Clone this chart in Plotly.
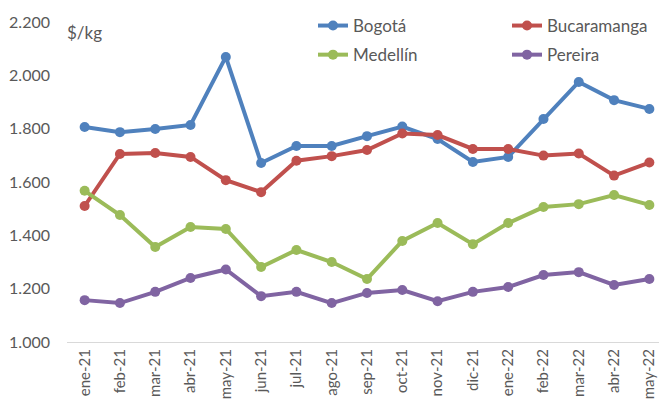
import plotly.graph_objects as go

months = ["ene-21", "feb-21", "mar-21", "abr-21", "may-21", "jun-21", "jul-21", "ago-21",
          "sep-21", "oct-21", "nov-21", "dic-21", "ene-22", "feb-22", "mar-22", "abr-22", "may-22"]

bogota = [1806, 1787, 1799, 1814, 2069, 1671, 1735, 1735, 1772, 1808, 1761, 1675, 1694, 1836, 1975, 1907, 1874]
bucaramanga = [1510, 1705, 1709, 1694, 1607, 1562, 1680, 1697, 1720, 1782, 1776, 1724, 1724, 1699, 1707, 1624, 1673]
medellin = [1567, 1476, 1356, 1431, 1424, 1281, 1345, 1300, 1236, 1379, 1446, 1367, 1446, 1506, 1517, 1551, 1514]
pereira = [1157, 1146, 1188, 1240, 1272, 1172, 1188, 1146, 1184, 1195, 1153, 1188, 1206, 1251, 1262, 1214, 1236]

series = [
    ("Bogotá", bogota, "#4F81BD", "legend", "g1"),
    ("Medellín", medellin, "#9BBB59", "legend", "g2"),
    ("Bucaramanga", bucaramanga, "#C0504D", "legend2", "g3"),
    ("Pereira", pereira, "#8064A2", "legend2", "g4"),
]

FONT = "Lato, Carlito, Calibri, sans-serif"
GRAY = "#595959"

# page body has an 8px margin: figure is 659x393 placed at (8, 8)
W, H = 659, 393

fig = go.Figure()
order = [0, 2, 1, 3]
for i in order:
    name, vals, color, leg, grp = series[i]
    fig.add_trace(go.Scatter(
        x=months, y=vals, name=name, mode="lines+markers",
        line=dict(color=color, width=4),
        marker=dict(color=color, size=10),
        legend=leg, legendgroup=grp, legendrank=i,
    ))

legend_common = dict(yref="container", xref="container", y=1.0, xanchor="left", yanchor="top",
                     font=dict(size=17, family=FONT, color=GRAY),
                     tracegroupgap=4, bgcolor="rgba(0,0,0,0)", itemwidth=30)

fig.update_layout(
    width=W, height=H,
    margin=dict(l=59, r=0, t=14, b=59, autoexpand=False),
    plot_bgcolor="white", paper_bgcolor="white",
    separators=",.",
    font=dict(family=FONT, color=GRAY, size=13),
    showlegend=True,
    legend=dict(x=(313 - 8) / W, **legend_common),
    legend2=dict(x=(507 - 8) / W, **legend_common),
    xaxis=dict(type="category", tickangle=-90, showgrid=False, automargin=False,
               showline=True, linecolor="#D9D9D9", linewidth=1,
               ticks="", tickfont=dict(size=15, color=GRAY),
               range=[-0.5, 16.5]),
    yaxis=dict(range=[1000, 2200], dtick=200, tickformat=",d", showgrid=False, automargin=False,
               zeroline=False, showline=False, ticks="",
               tickfont=dict(size=16, color=GRAY), ticklabelstandoff=16),
    annotations=[dict(text="$/kg", xref="paper", yref="paper", x=-0.004, y=0.966,
                      xanchor="left", yanchor="middle", showarrow=False,
                      font=dict(size=17, family=FONT, color=GRAY))],
)

fig.write_html("out.html")
